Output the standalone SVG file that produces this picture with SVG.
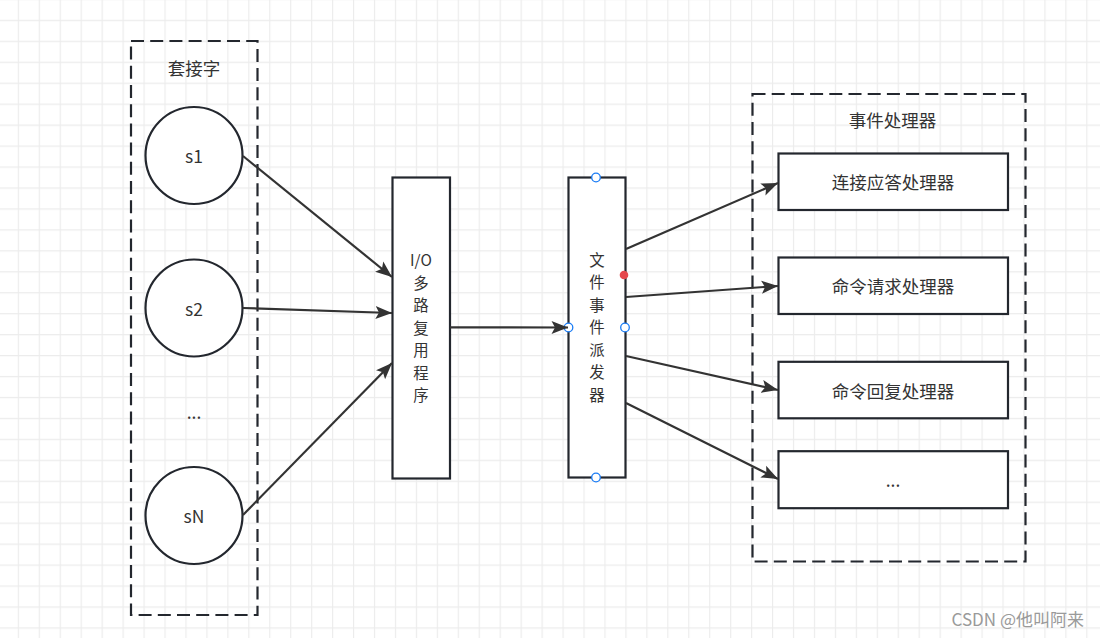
<svg xmlns="http://www.w3.org/2000/svg" width="1100" height="638" viewBox="0 0 1100 638">
<defs>
<pattern id="grid" patternUnits="userSpaceOnUse" x="17.8" y="19.8" width="20.95" height="20.95">
<path d="M0.5 0 V20.95 M0 0.5 H20.95" fill="none" stroke="#ececec" stroke-width="1.4"/>
</pattern>
<marker id="arr" markerUnits="userSpaceOnUse" markerWidth="18" markerHeight="14" refX="16.5" refY="7" orient="auto">
<path d="M0,0.5 L16.5,7 L0,13.5 L3.5,7 z" fill="#333"/>
</marker>
<style>
.txt{font-family:"Noto Sans CJK SC","Noto Sans",sans-serif;font-size:17.5px;fill:#333;text-anchor:middle}
.col{font-size:15.4px}
.wm{font-family:"Noto Sans CJK SC","Noto Sans",sans-serif;font-size:17px;fill:#9a9a9a;text-anchor:end}
.dash{fill:none;stroke:#23272e;stroke-width:2.2;stroke-dasharray:13 6.2}
.box{fill:#fff;stroke:#23272e;stroke-width:2.2}
.conn{stroke:#333;stroke-width:2.2;fill:none;marker-end:url(#arr)}
.handle{fill:#fff;stroke:#1a7cf5;stroke-width:1.3}
</style>
</defs>
<rect width="1100" height="638" fill="#fff"/>
<rect width="1100" height="638" fill="url(#grid)"/>

<g id="sockets">
<rect class="dash" x="131" y="41" width="126.5" height="574"/>
<text class="txt" x="194" y="74.6">套接字</text>
</g>
<g id="s1">
<circle class="box" cx="194" cy="155.5" r="48.5"/>
<text class="txt" x="194" y="163">s1</text>
</g>
<g id="s2">
<circle class="box" cx="194" cy="308" r="48.5"/>
<text class="txt" x="194" y="316">s2</text>
</g>
<g id="ellipsis-left">
<text class="txt" x="194" y="419">...</text>
</g>
<g id="sN">
<circle class="box" cx="194" cy="515.5" r="48.5"/>
<text class="txt" x="194" y="523">sN</text>
</g>

<g id="io">
<rect class="box" x="392.5" y="177.5" width="57.5" height="301"/>
<text class="txt col" x="421"><tspan x="421" y="266.3">I/O</tspan><tspan x="421" y="288.9">多</tspan><tspan x="421" y="311.4">路</tspan><tspan x="421" y="333.9">复</tspan><tspan x="421" y="356.4">用</tspan><tspan x="421" y="378.9">程</tspan><tspan x="421" y="401.4">序</tspan></text>
</g>

<g id="dispatcher">
<rect class="box" x="568.5" y="177.5" width="57" height="300"/>
<text class="txt col" x="597"><tspan x="597" y="265.9">文</tspan><tspan x="597" y="288.4">件</tspan><tspan x="597" y="310.9">事</tspan><tspan x="597" y="333.4">件</tspan><tspan x="597" y="355.9">派</tspan><tspan x="597" y="378.4">发</tspan><tspan x="597" y="400.9">器</tspan></text>
<circle class="handle" cx="596" cy="177.5" r="4.3"/>
<circle class="handle" cx="596" cy="477.5" r="4.3"/>
<circle class="handle" cx="568.5" cy="327.5" r="4.3"/>
<circle class="handle" cx="625" cy="327.5" r="4.3"/>
<circle cx="624" cy="275" r="4.3" fill="#e5484d"/>
</g>

<g id="handlers">
<rect class="dash" x="752.5" y="94" width="273" height="467.5"/>
<text class="txt" x="892.5" y="127">事件处理器</text>
</g>
<g id="h1">
<rect class="box" x="778.5" y="153.5" width="229.5" height="56.5"/>
<text class="txt" x="893" y="189">连接应答处理器</text>
</g>
<g id="h2">
<rect class="box" x="778.5" y="257.5" width="229.5" height="56.5"/>
<text class="txt" x="893" y="293">命令请求处理器</text>
</g>
<g id="h3">
<rect class="box" x="778.5" y="361.8" width="229.5" height="56.5"/>
<text class="txt" x="893" y="397.6">命令回复处理器</text>
</g>
<g id="h4">
<rect class="box" x="778.5" y="451.2" width="229.5" height="57"/>
<text class="txt" x="893" y="487">...</text>
</g>

<g id="connectors">
<line class="conn" x1="243" y1="156" x2="392" y2="277"/>
<line class="conn" x1="243" y1="308" x2="392" y2="313"/>
<line class="conn" x1="243" y1="515" x2="392" y2="363"/>
<line class="conn" x1="450" y1="327.3" x2="568" y2="327.5"/>
<line class="conn" x1="626" y1="249" x2="778" y2="183"/>
<line class="conn" x1="626" y1="297" x2="778" y2="286"/>
<line class="conn" x1="626" y1="356" x2="778" y2="390"/>
<line class="conn" x1="626" y1="403" x2="778" y2="479"/>
</g>

<text class="wm" x="1084" y="626">CSDN @他叫阿来</text>
</svg>
